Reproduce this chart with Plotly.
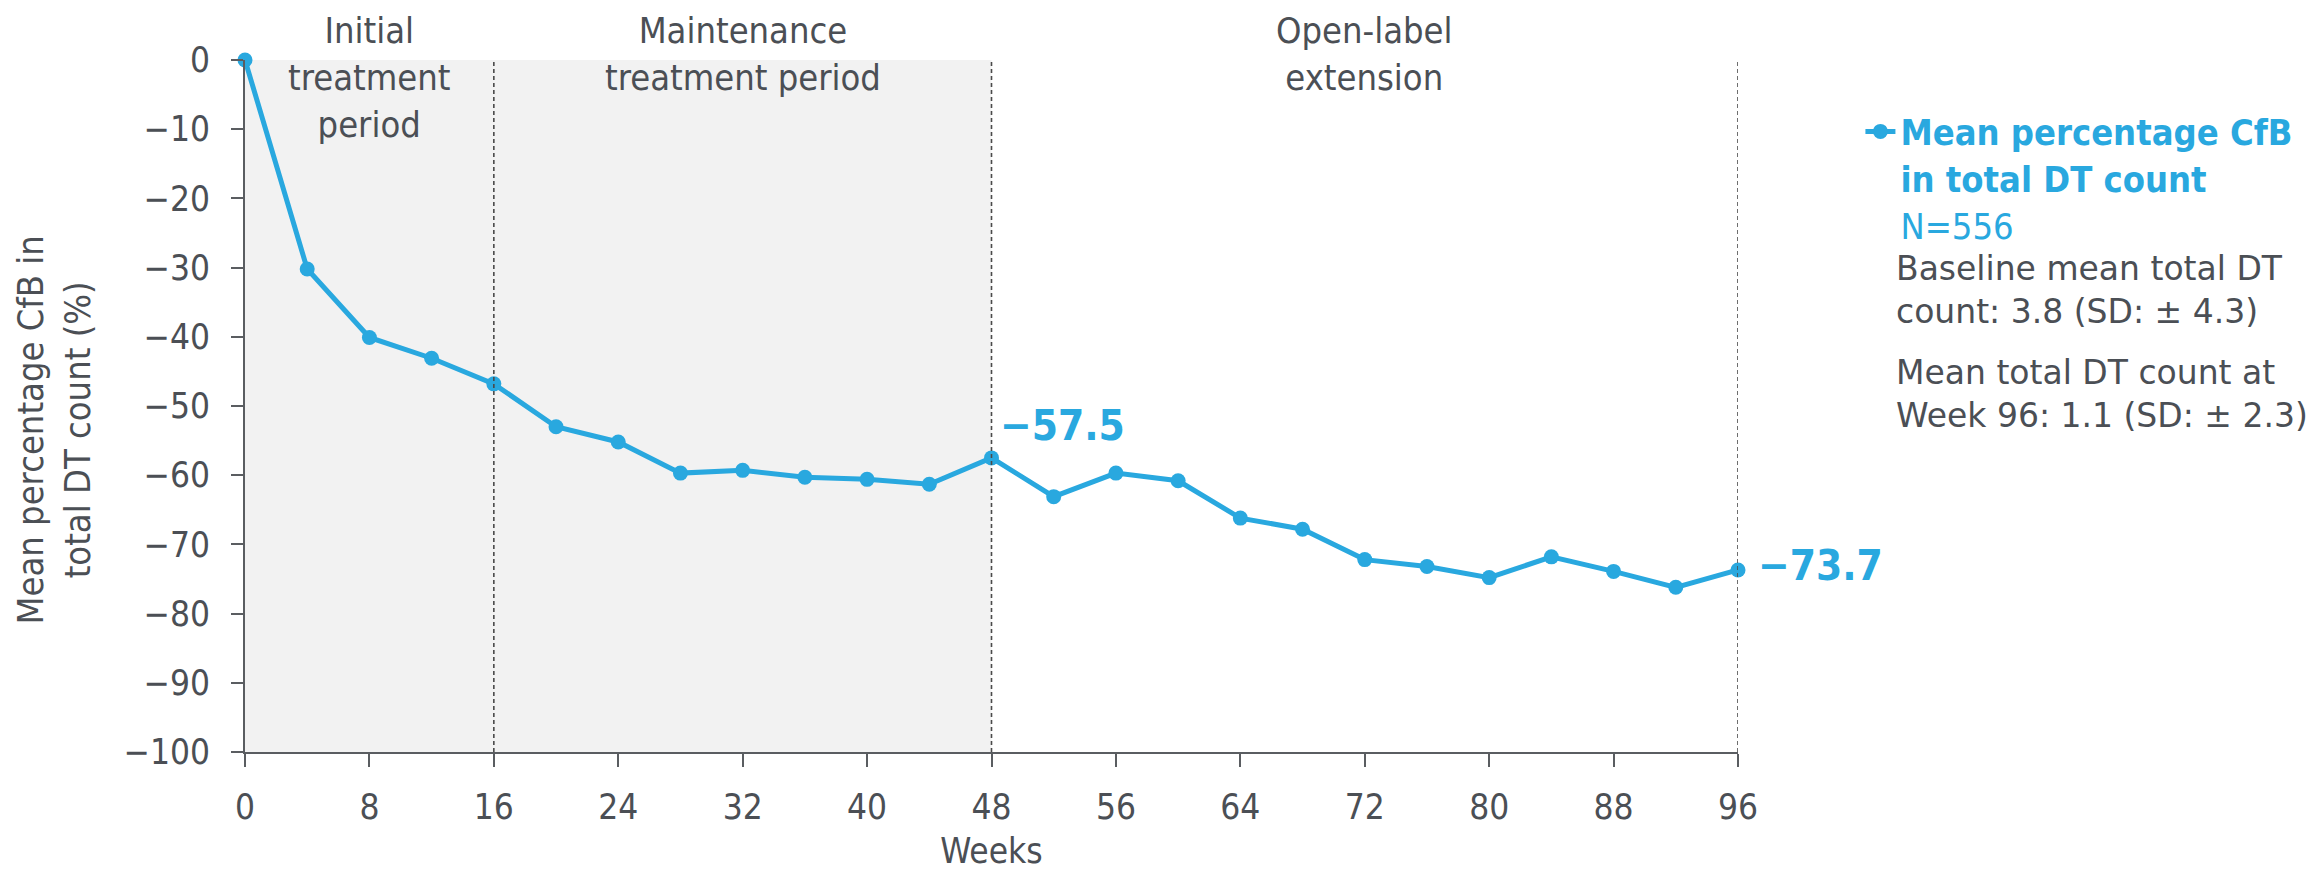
import plotly.graph_objects as go

# Mean percentage change from baseline in total DT count, by study week
weeks = [0, 4, 8, 12, 16, 20, 24, 28, 32, 36, 40, 44, 48,
         52, 56, 60, 64, 68, 72, 76, 80, 84, 88, 92, 96]
mean_cfb = [0.0, -30.2, -40.1, -43.1, -46.8, -53.0, -55.2, -59.7, -59.3, -60.3, -60.6, -61.3, -57.5,
            -63.1, -59.7, -60.8, -66.2, -67.8, -72.2, -73.2, -74.8, -71.8, -73.9, -76.2, -73.7]

# Study periods: (start week, end week, label)
periods = [
    (0, 16, "Initial<br>treatment<br>period"),
    (16, 48, "Maintenance<br>treatment period"),
    (48, 96, "Open-label<br>extension"),
]
shaded_span = (0, 48)
boundary_weeks = [16, 48, 96]
labelled_weeks = [48, 96]

y_ticks = list(range(-100, 1, 10))
x_ticks = list(range(0, 97, 8))

series_name = "<b>Mean percentage CfB<br>in total DT count</b><br>N=556"
note_baseline = "Baseline mean total DT<br>count: 3.8 (SD: ± 4.3)"
note_week96 = "Mean total DT count at<br>Week 96: 1.1 (SD: ± 2.3)"

FONT = "DejaVu Sans Condensed, DejaVu Sans, sans-serif"
NOTE_FONT = "DejaVu Sans, sans-serif"
BLUE = "#29a8df"
TEXT = "#4b4f55"
AXIS = "#5a5d61"


def fmt(v):
    return ("\u2212" if v < 0 else "") + f"{abs(v):g}"


fig = go.Figure()

fig.add_trace(go.Scatter(
    x=weeks, y=mean_cfb, mode="lines+markers", name=series_name,
    line=dict(color=BLUE, width=5),
    marker=dict(color=BLUE, size=15),
    cliponaxis=False,
))

# Shaded treatment periods
fig.add_shape(type="rect", xref="x", yref="y", x0=shaded_span[0], x1=shaded_span[1],
              y0=-100, y1=0, fillcolor="#f2f2f2", line_width=0, layer="below")

# Period boundaries
for w in boundary_weeks:
    fig.add_shape(type="line", xref="x", yref="y", x0=w, x1=w, y0=-100, y1=0,
                  line=dict(color="#4a4a4a", width=1.6, dash="4px,3px"), layer="above")

# Period titles
for start, end, label in periods:
    fig.add_annotation(x=(start + end) / 2, xref="x", y=1.075, yref="paper",
                       text=label, showarrow=False, xanchor="center", yanchor="top",
                       align="center", font=dict(family=FONT, size=36, color=TEXT))

# Value callouts
for w in labelled_weeks:
    v = mean_cfb[weeks.index(w)]
    if w == 48:
        shift = dict(xshift=6, yshift=32)
    else:
        shift = dict(xshift=18, yshift=5)
    fig.add_annotation(x=w, y=v, xref="x", yref="y", text=f"<b>{fmt(v)}</b>",
                       showarrow=False, xanchor="left", yanchor="middle",
                       font=dict(family=FONT, size=42, color=BLUE), **shift)

# Y-axis title
fig.add_annotation(x=-0.128, y=0.466, xref="paper", yref="paper",
                   text="Mean percentage CfB in<br>total DT count (%)",
                   textangle=-90, showarrow=False, xanchor="center", yanchor="middle",
                   font=dict(family=FONT, size=36, color=TEXT))

# Notes under the legend entry
for txt, yy in [(note_baseline, 0.668), (note_week96, 0.517)]:
    fig.add_annotation(x=1.1045, y=yy, xref="paper", yref="paper", text=txt,
                       showarrow=False, xanchor="left", yanchor="middle", align="left",
                       font=dict(family=NOTE_FONT, size=33, color=TEXT))

fig.update_layout(
    width=2318, height=876, autosize=False,
    margin=dict(l=245, r=580, t=60, b=119),
    paper_bgcolor="white", plot_bgcolor="white",
    font=dict(family=FONT, size=35, color=TEXT),
    showlegend=True,
    legend=dict(x=1.082, y=0.94, xanchor="left", yanchor="top", valign="top",
                font=dict(family=FONT, size=36, color=BLUE),
                bgcolor="rgba(0,0,0,0)"),
    xaxis=dict(range=[0, 96], tickvals=x_ticks, ticktext=[str(t) for t in x_ticks],
               showgrid=False, zeroline=False, showline=True, linecolor=AXIS, linewidth=2,
               ticks="outside", ticklen=13, tickwidth=2, tickcolor=AXIS,
               ticklabelstandoff=10,
               tickfont=dict(family=FONT, size=35, color=TEXT),
               title=dict(text="Weeks", font=dict(family=FONT, size=35, color=TEXT), standoff=12)),
    yaxis=dict(range=[-100, 0], tickvals=y_ticks, ticktext=[fmt(t) for t in y_ticks],
               showgrid=False, zeroline=False, showline=True, linecolor=AXIS, linewidth=2,
               ticks="outside", ticklen=12, tickwidth=2, tickcolor=AXIS,
               ticklabelstandoff=14,
               tickfont=dict(family=FONT, size=35, color=TEXT)),
)

fig.write_html("out.html")
